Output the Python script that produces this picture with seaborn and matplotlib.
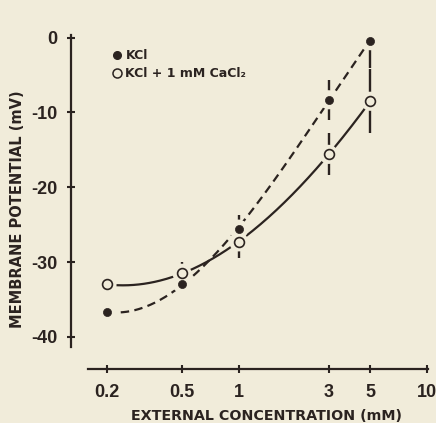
import numpy as np
import pandas as pd
import matplotlib
matplotlib.use("Agg")
import matplotlib.pyplot as plt
from matplotlib.lines import Line2D
import seaborn as sns

# ---- data ----
conc = [0.2, 0.5, 1, 3, 5]
kcl = [-36.7, -32.9, -25.6, -8.3, -0.4]
kcl_err = [0.0, 1.2, 1.9, 2.7, 3.7]
kcl_ca = [-33.0, -31.5, -27.3, -15.6, -8.5]
kcl_ca_err = [0.0, 1.5, 2.1, 2.8, 4.3]
series_names = ["KCl", "KCl + 1 mM CaCl\u2082"]
xticks = [0.2, 0.5, 1, 3, 5, 10]
xticklabels = ["0.2", "0.5", "1", "3", "5", "10"]
yticks = [0, -10, -20, -30, -40]
yticklabels = ["0", "-10", "-20", "-30", "-40"]

BG = "#f1ecda"
INK = "#2b2320"

sns.set_theme(style="ticks")
plt.rcParams["font.family"] = ["DejaVu Sans"]
plt.rcParams["axes.unicode_minus"] = False

df = pd.DataFrame({
    "conc": conc * 2,
    "pot": kcl + kcl_ca,
    "err": kcl_err + kcl_ca_err,
    "cond": [series_names[0]] * len(conc) + [series_names[1]] * len(conc),
})

fig = plt.figure(figsize=(4.36, 4.23), dpi=100)
fig.patch.set_facecolor(BG)
W, H = 436, 423
ax = fig.add_axes([71 / W, (H - 369) / H, (428 - 71) / W, (369 - 35) / H])
ax.set_facecolor(BG)
ax.set_xscale("log")

# smooth trend curves (cubic in log concentration, fitted to the data)
grid = np.logspace(np.log10(conc[0]), np.log10(conc[-1]), 200)
styles = {series_names[0]: (0, (3.8, 2.4)), series_names[1]: "-"}
for name, g in df.groupby("cond", sort=False):
    coef = np.polyfit(np.log10(g["conc"]), g["pot"], 3)
    fit = pd.DataFrame({"conc": grid, "pot": np.polyval(coef, np.log10(grid))})
    sns.lineplot(data=fit, x="conc", y="pot", ax=ax, color=INK, lw=1.6,
                 linestyle=styles[name], zorder=2)

# error bars
for name, g in df.groupby("cond", sort=False):
    m = g["err"] > 0
    ax.errorbar(g["conc"][m], g["pot"][m], yerr=g["err"][m], fmt="none",
                ecolor=INK, elinewidth=1.7, capsize=0, zorder=2)

# halos around markers
sns.scatterplot(data=df, x="conc", y="pot", ax=ax, s=190, color=BG,
                edgecolor="none", zorder=3, legend=False)
# markers
g1 = df[df["cond"] == series_names[0]]
g2 = df[df["cond"] == series_names[1]]
sns.scatterplot(data=g1, x="conc", y="pot", ax=ax, s=34, color=INK,
                edgecolor=INK, linewidth=0.5, zorder=4, legend=False)
sns.scatterplot(data=g2, x="conc", y="pot", ax=ax, s=50, facecolor=BG,
                edgecolor=INK, linewidth=1.2, zorder=4, legend=False)

# axes
ax.set_xlim(0.1288, 10.12)
ax.set_ylim(-44.3, 0.36)
for s in ["top", "right"]:
    ax.spines[s].set_visible(False)
for s in ["left", "bottom"]:
    ax.spines[s].set_color(INK)
    ax.spines[s].set_linewidth(1.6)
ax.spines["left"].set_bounds(-41.4, 0.36)
ax.spines["bottom"].set_bounds(0.158, 10.12)

ax.set_xticks(xticks)
ax.set_xticklabels(xticklabels)
ax.xaxis.set_minor_locator(matplotlib.ticker.NullLocator())
ax.set_yticks(yticks)
ax.set_yticklabels(yticklabels)
ax.tick_params(direction="inout", length=6, width=1.5, colors=INK, labelsize=13)
ax.tick_params(axis="x", pad=8)
ax.tick_params(axis="y", pad=7)
for lbl in ax.get_xticklabels() + ax.get_yticklabels():
    lbl.set_fontfamily(["Liberation Sans", "DejaVu Sans"])
    lbl.set_fontweight("bold")
    lbl.set_color(INK)

ax.set_xlabel("EXTERNAL CONCENTRATION (mM)", fontsize=10.3, fontweight="bold", color=INK)
ax.xaxis.set_label_coords(0.548, -0.12)
ax.set_ylabel("MEMBRANE POTENTIAL (mV)", fontsize=10.5, fontweight="bold", color=INK)
ax.yaxis.set_label_coords(-0.129, 0.4775)

handles = [
    Line2D([], [], marker="o", ls="none", color=INK, markersize=5.5),
    Line2D([], [], marker="o", ls="none", markerfacecolor=BG,
           markeredgecolor=INK, markeredgewidth=1.1, markersize=6.5),
]
leg = ax.legend(handles, series_names, loc="upper left",
                bbox_to_anchor=(0.114, 0.958), frameon=False, borderpad=0,
                borderaxespad=0, handlelength=0.8, handletextpad=0.3,
                labelspacing=0.4, prop={"weight": "bold", "size": 9})
for t in leg.get_texts():
    t.set_color(INK)

fig.savefig("out.png", dpi=100, facecolor=BG)
